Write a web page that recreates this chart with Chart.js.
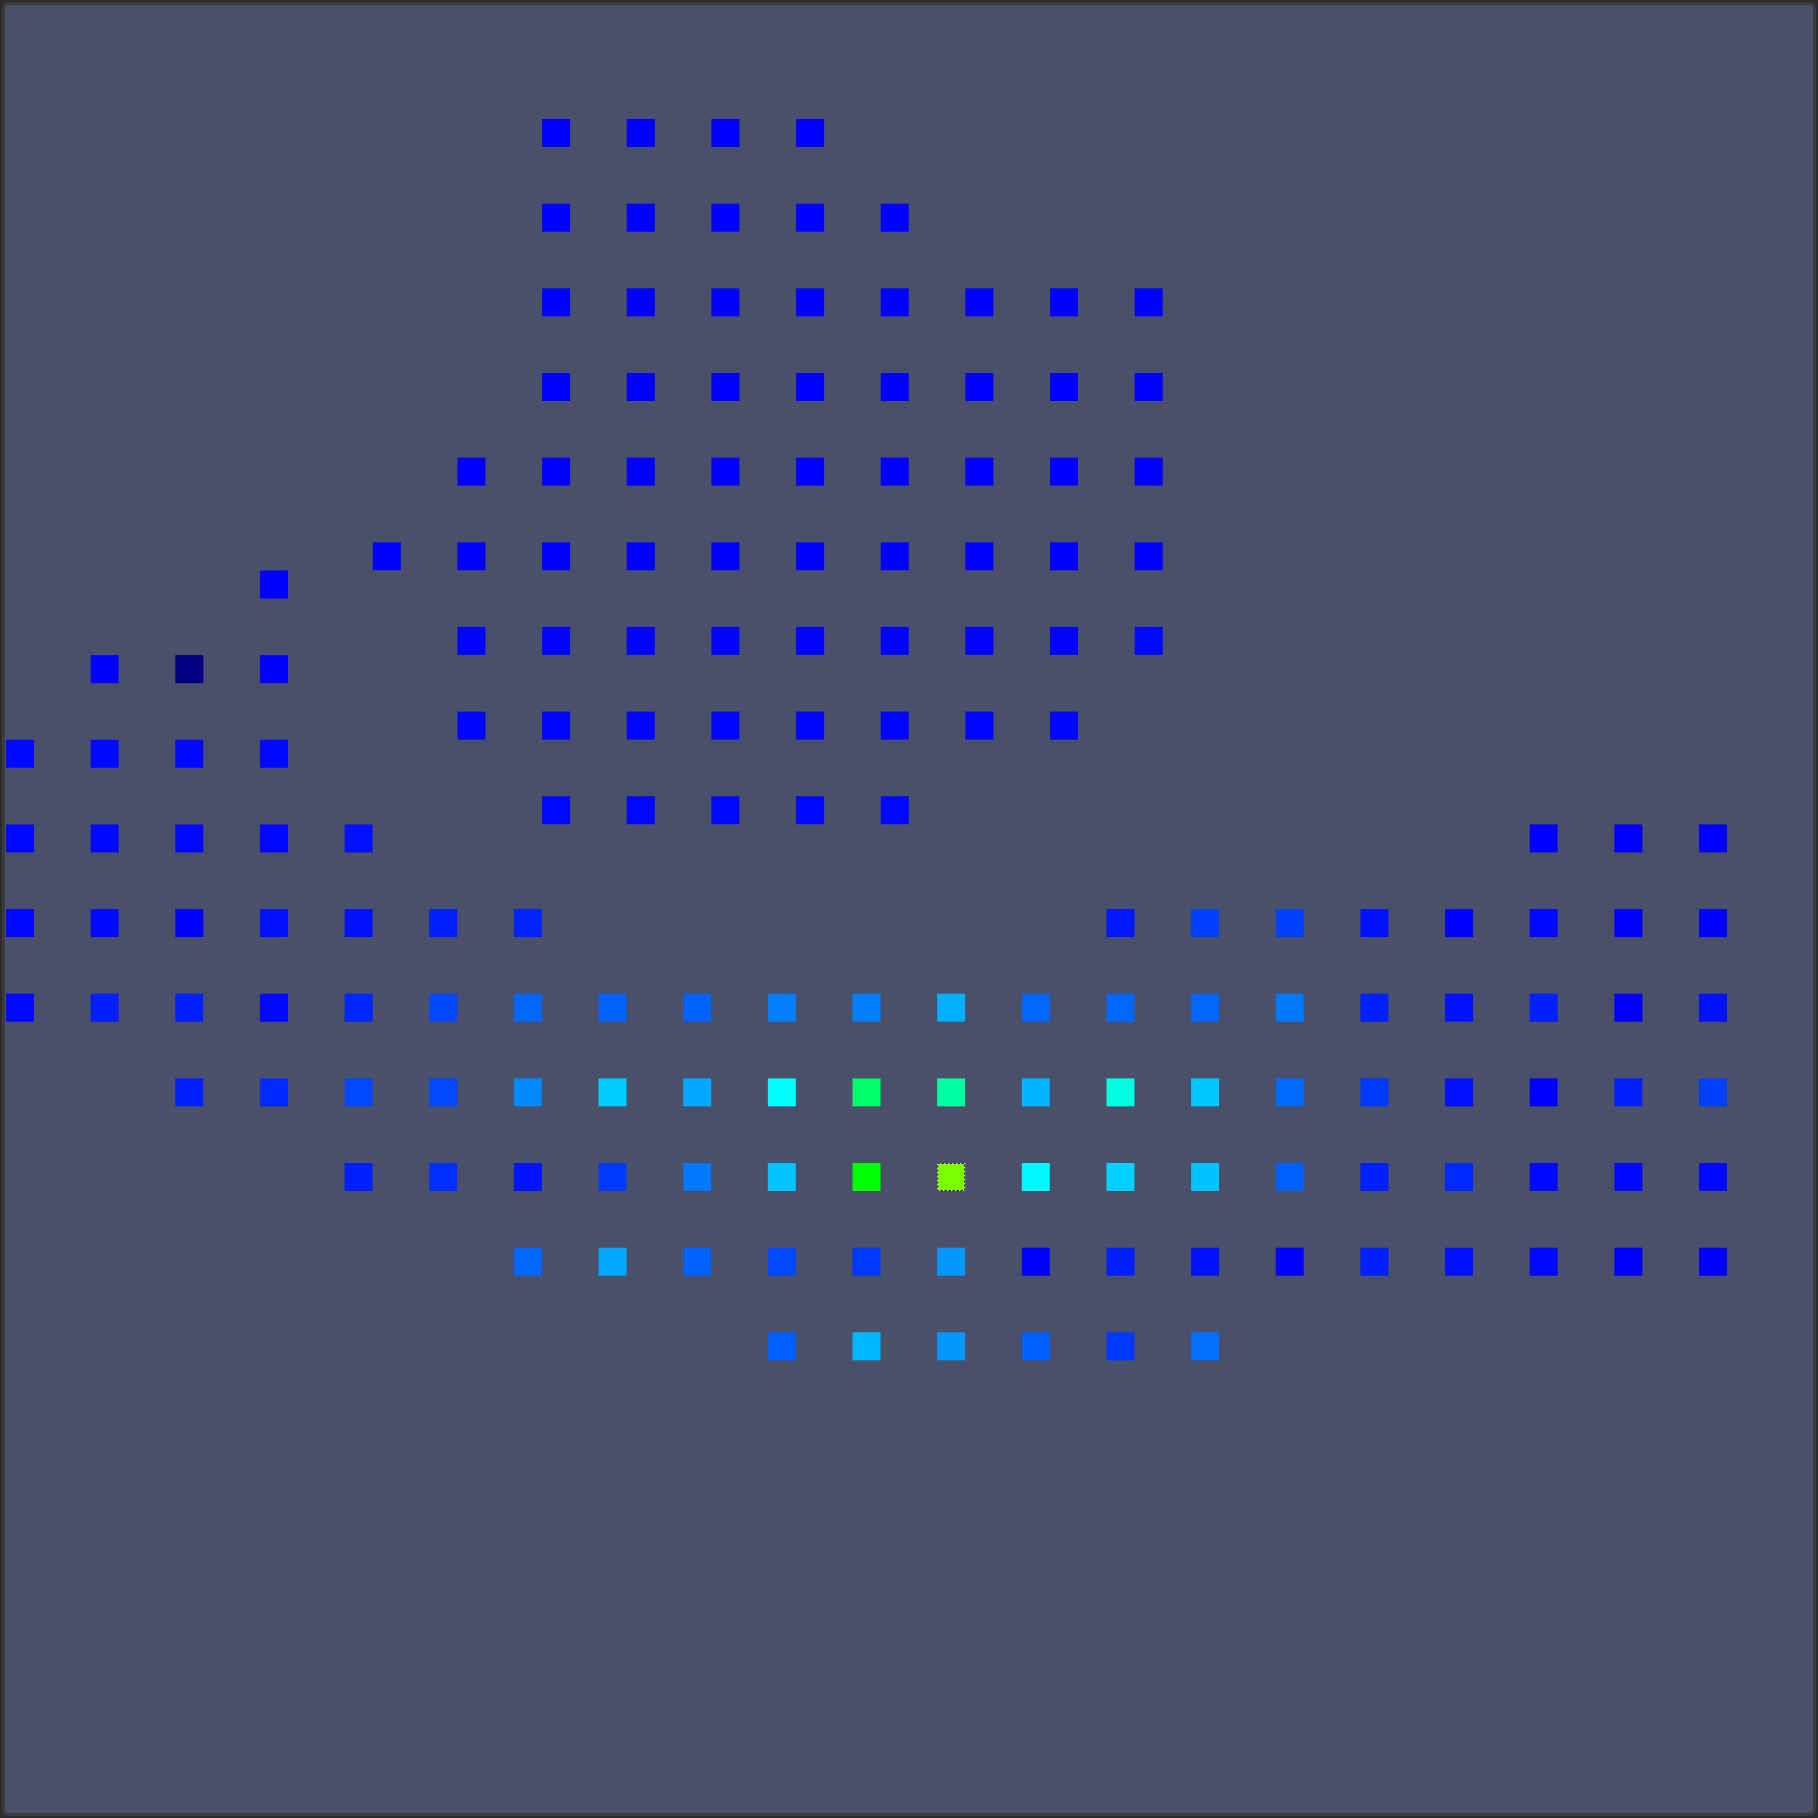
<!DOCTYPE html>
<html>
<head>
<meta charset="utf-8">
<script src="https://cdn.jsdelivr.net/npm/chart.js@4/dist/chart.umd.min.js"></script>
<style>
  html, body { margin: 0; padding: 0; background: #2b2b2b; width: 1818px; height: 1818px; overflow: hidden; }
  #frame {
    position: absolute; left: 2px; top: 2px;
    width: 1806px; height: 1806px;
    padding: 1px 1px 1px 1px;
    border: 3px solid #3c3c3c; border-radius: 6px;
    background: #4a4f6a;
  }
  canvas { display: block; }
</style>
</head>
<body>
<div id="frame"><canvas id="c" width="1806" height="1806"></canvas></div>
<script>
// ---- Data: grid A (longitudes / latitudes of cell centres) ----
const lonA = [100.00,100.75,101.50,102.25,103.00,103.75,104.50,105.25,106.00,106.75,107.50,
              108.25,109.00,109.75,110.50,111.25,112.00,112.75,113.50,114.25,115.00];
const latA = [25.50,24.75,24.00,23.25,22.50,21.75,21.00,20.25,19.50,18.75];
const n = null;
const valuesA = [
  [n,n,n,20.0,n,n,n,n,n,n,n,n,n,n,n,n,n,n,n,n,n],
  [n,20.0,0.0,20.0,n,n,n,n,n,n,n,n,n,n,n,n,n,n,n,n,n],
  [20.6,20.6,20.6,20.6,n,n,n,n,n,n,n,n,n,n,n,n,n,n,n,n,n],
  [20.6,20.6,20.6,20.6,21.3,n,n,n,n,n,n,n,n,n,n,n,n,n,20.0,20.0,20.0],
  [20.6,20.6,20.0,21.3,21.3,22.5,22.8,n,n,n,n,n,n,21.9,25.0,25.0,21.3,20.0,20.6,20.0,20.0],
  [20.6,22.5,22.5,20.6,23.0,25.6,28.0,27.7,27.7,30.0,30.0,33.8,28.0,28.0,28.0,29.4,22.5,21.3,22.5,20.0,21.3],
  [n,n,22.5,23.1,25.6,25.6,30.7,36.0,33.2,40.0,51.7,47.5,34.1,42.4,35.7,28.3,24.4,21.3,20.0,22.5,25.0],
  [n,n,n,n,22.5,23.8,21.6,24.7,29.4,35.4,60.0,69.6,39.5,36.3,35.1,27.5,22.5,23.1,20.6,20.6,20.6],
  [n,n,n,n,n,n,28.0,33.2,27.7,25.6,24.4,31.9,20.0,22.5,21.3,20.0,22.5,21.3,20.6,20.0,20.0],
  [n,n,n,n,n,n,n,n,n,27.5,34.4,31.9,27.5,24.4,28.8,n,n,n,n,n,n]
];

// ---- Data: grid B ----
const lonB = [103.25,104.00,104.75,105.50,106.25,107.00,107.75,108.50,109.25,110.00];
const latB = [29.50,28.75,28.00,27.25,26.50,25.75,25.00,24.25,23.50];
const valuesB = [
  [n,n,20.0,20.0,20.0,20.0,n,n,n,n],
  [n,n,20.0,20.0,20.0,20.0,20.0,n,n,n],
  [n,n,20.0,20.0,20.0,20.0,20.0,20.0,20.0,20.0],
  [n,n,20.0,20.0,20.0,20.0,20.0,20.0,20.0,20.0],
  [n,20.0,20.0,20.0,20.0,20.0,20.0,20.0,20.0,20.0],
  [20.0,20.0,20.0,20.0,20.0,20.0,20.0,20.0,20.0,20.0],
  [n,20.3,20.3,20.3,20.3,20.3,20.3,20.3,20.3,20.6],
  [n,20.4,20.4,20.4,20.4,20.4,20.4,20.4,20.4,n],
  [n,n,20.5,20.5,20.5,20.5,20.5,n,n,n]
];

// ---- colour scale ----
const colorStops = [
  [0,   [0, 0, 128]],
  [20,  [0, 0, 255]],
  [40,  [0, 255, 255]],
  [60,  [0, 255, 0]],
  [80,  [255, 255, 0]],
  [100, [255, 0, 0]]
];
function valueColor(v) {
  for (let i = 1; i < colorStops.length; i++) {
    const [v1, c1] = colorStops[i];
    const [v0, c0] = colorStops[i - 1];
    if (v <= v1) {
      const t = (v - v0) / (v1 - v0);
      const c = c0.map((a, k) => Math.round(a + (c1[k] - a) * t));
      return 'rgb(' + c.join(',') + ')';
    }
  }
  return 'rgb(255,0,0)';
}

function buildPoints(lons, lats, vals) {
  const pts = [];
  vals.forEach((row, j) => row.forEach((v, i) => {
    if (v !== null) pts.push({ x: lons[i], y: lats[j], v: v });
  }));
  return pts;
}
const ptsA = buildPoints(lonA, latA, valuesA);
const ptsB = buildPoints(lonB, latB, valuesB);

const SQUARE = 28;
const RADIUS = (SQUARE / 2) / Math.SQRT1_2;

const maxHighlight = {
  id: 'maxHighlight',
  afterDatasetsDraw(chart) {
    const all = [];
    chart.data.datasets.forEach((ds, di) => ds.data.forEach((p, pi) => all.push({ di, pi, v: p.v })));
    let best = all[0];
    all.forEach(a => { if (a.v > best.v) best = a; });
    const el = chart.getDatasetMeta(best.di).data[best.pi];
    const ctx = chart.ctx;
    const h = SQUARE / 2;
    ctx.save();
    ctx.lineWidth = 1;
    ctx.strokeStyle = '#d0d0d0';
    ctx.strokeRect(el.x - h + 0.5, el.y - h + 0.5, SQUARE - 1, SQUARE - 1);
    ctx.setLineDash([2, 2]);
    ctx.strokeStyle = '#000000';
    ctx.strokeRect(el.x - h + 0.5, el.y - h + 0.5, SQUARE - 1, SQUARE - 1);
    ctx.restore();
  }
};

new Chart(document.getElementById('c'), {
  type: 'scatter',
  data: {
    datasets: [
      { label: 'A', data: ptsA, backgroundColor: ptsA.map(p => valueColor(p.v)), clip: false },
      { label: 'B', data: ptsB, backgroundColor: ptsB.map(p => valueColor(p.v)), clip: false }
    ]
  },
  options: {
    responsive: false,
    devicePixelRatio: 1,
    animation: false,
    layout: { padding: 0, autoPadding: false },
    elements: { point: { pointStyle: 'rect', radius: RADIUS, hoverRadius: RADIUS, borderWidth: 0 } },
    scales: {
      x: { type: 'linear', min: 99.876, max: 115.877, display: false },
      y: { type: 'linear', min: 14.624, max: 30.6255, display: false }
    },
    plugins: { legend: { display: false }, tooltip: { enabled: false } }
  },
  plugins: [maxHighlight]
});
</script>
</body>
</html>
